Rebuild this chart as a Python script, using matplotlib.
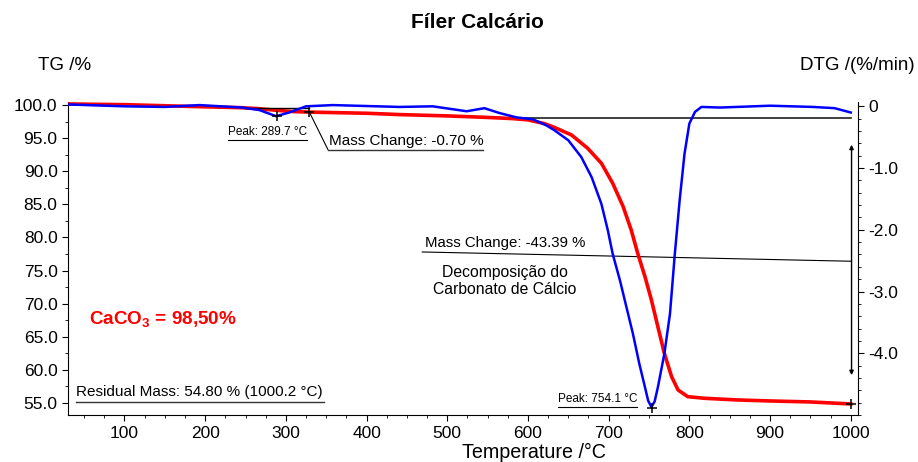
import numpy as np
import matplotlib
matplotlib.use("Agg")
import matplotlib.pyplot as plt
from matplotlib.ticker import MultipleLocator

plt.rcParams['font.family'] = ['Liberation Sans', 'DejaVu Sans']
plt.rcParams['mathtext.fontset'] = 'custom'
plt.rcParams['mathtext.rm'] = 'Liberation Sans'
plt.rcParams['mathtext.bf'] = 'Liberation Sans:bold'

# TG curve (mass %)
tg_temp = [30, 100, 200, 243, 265, 288, 310, 330, 400, 441, 500, 544, 580, 600, 620, 633,
           654, 674, 691, 705, 718, 728, 736, 745, 753, 761, 769, 778, 786, 798, 819,
           860, 900, 950, 1000]
tg_mass = [100.15, 100.05, 99.72, 99.6, 99.45, 99.2, 99.0, 98.92, 98.75, 98.55, 98.35,
           98.15, 97.95, 97.75, 97.2, 96.6, 95.47, 93.46, 91.2, 88.18, 84.64, 81.1, 77.6,
           74.07, 70.55, 66.5, 62.5, 58.97, 56.96, 55.95, 55.7, 55.45, 55.3, 55.15, 54.85]

# DTG curve (%/min)
dtg_temp = [30, 100, 150, 193, 246, 267, 288, 304, 325, 358, 441, 482, 524, 546, 565,
            586, 606, 623, 633, 650, 666, 679, 691, 699, 705, 714, 722, 730, 738, 745,
            749, 753, 757, 761, 769, 776, 782, 788, 794, 800, 807, 815, 838, 900, 953,
            980, 1000]
dtg_rate = [0.03, 0.0, -0.01, 0.02, -0.02, -0.06, -0.16, -0.1, 0.0, 0.02, -0.01, 0.0,
            -0.08, -0.03, -0.11, -0.18, -0.21, -0.31, -0.39, -0.55, -0.82, -1.15, -1.58,
            -2.01, -2.39, -2.82, -3.25, -3.68, -4.17, -4.55, -4.77, -4.87, -4.78, -4.55,
            -4.01, -3.36, -2.39, -1.52, -0.77, -0.28, -0.09, -0.01, -0.02, 0.01, -0.01,
            -0.03, -0.1]

fig = plt.figure(figsize=(9.18, 4.62), dpi=100)
ax = fig.add_axes([68/918, 1-415/462, 790/918, 313/462])
ax2 = ax.twinx()

ax.plot(tg_temp, tg_mass, color='#ff0000', lw=2.6, zorder=3, solid_joinstyle='round')
ax2.plot(dtg_temp, dtg_rate, color='#0000ff', lw=1.8, zorder=3, solid_joinstyle='round')

ax.set_xlim(30, 1009)
ax.set_ylim(53.18, 100.45)
ax2.set_ylim(-5.0, 0.07)

# spines / ticks
for a in (ax, ax2):
    a.spines['top'].set_visible(False)
ax.spines['right'].set_visible(False)
ax2.spines['left'].set_visible(False)
ax2.spines['bottom'].set_visible(False)

ax.set_xticks([100, 200, 300, 400, 500, 600, 700, 800, 900, 1000])
ax.xaxis.set_minor_locator(MultipleLocator(25))
ax.set_yticks([55, 60, 65, 70, 75, 80, 85, 90, 95, 100])
ax.set_yticklabels(['%.1f' % v for v in [55, 60, 65, 70, 75, 80, 85, 90, 95, 100]])
ax.yaxis.set_minor_locator(MultipleLocator(2.5))
ax2.set_yticks([0, -1, -2, -3, -4])
ax2.set_yticklabels(['0', '-1.0', '-2.0', '-3.0', '-4.0'])
ax2.yaxis.set_minor_locator(MultipleLocator(0.2))

for a in (ax, ax2):
    a.tick_params(which='major', length=4, width=0.8, labelsize=12.5, direction='out')
    a.tick_params(which='minor', length=2.5, width=0.6, direction='out')
ax.tick_params(axis='x', pad=4)

# annotations (black lines)
ax.plot([249, 329], [99.55, 99.55], color='black', lw=1.0, zorder=4)
ax.plot([329, 352], [98.95, 93.3], color='black', lw=0.8, zorder=4)
ax.plot([329], [98.95], marker='+', color='black', ms=7, mew=1.1, zorder=5)
ax2.plot([288.4], [-0.16], marker='+', color='black', ms=7, mew=1.1, zorder=5)
ax.plot([550, 1000], [98.04, 98.04], color='#333333', lw=1.3, zorder=2)
ax.plot([469, 1001], [77.8, 76.4], color='black', lw=0.8, zorder=2)
ax.annotate('', xy=(1001, 94.0), xytext=(1001, 59.2),
            arrowprops=dict(arrowstyle='<|-|>', color='black', lw=1.0,
                            mutation_scale=6, shrinkA=0, shrinkB=0))
ax.plot([1000], [54.85], marker='+', color='black', ms=7, mew=1.1, zorder=5)
ax2.plot([753.5], [-4.88], marker='+', color='black', ms=7, mew=1.1, zorder=5)

# texts with underlines
ax.text(228, 95.0, 'Peak: 289.7 °C', fontsize=8.5, ha='left', va='bottom')
ax.plot([227.7, 325.6], [94.71, 94.71], color='black', lw=0.8)
ax.text(353, 93.55, 'Mass Change: -0.70 %', fontsize=11, ha='left', va='bottom')
ax.plot([351.6, 543.8], [93.2, 93.2], color='#333333', lw=1.0)
ax.text(40, 55.55, 'Residual Mass: 54.80 % (1000.2 °C)', fontsize=11, ha='left', va='bottom')
ax.plot([39.3, 346.7], [55.15, 55.15], color='#333333', lw=1.0)
ax.text(637.5, 54.75, 'Peak: 754.1 °C', fontsize=8.5, ha='left', va='bottom')
ax.plot([636.8, 734.7], [54.4, 54.4], color='black', lw=0.8)
ax.text(472, 78.15, 'Mass Change: -43.39 %', fontsize=10.8, ha='left', va='bottom')
ax.text(571, 73.4, 'Decomposição do\nCarbonato de Cálcio', fontsize=11.3,
        ha='center', va='center', linespacing=1.15)
ax.text(56, 67.5, r'CaCO$_\mathbf{3}$ = 98,50%', fontsize=13.6, fontweight='bold',
        color='#ff0000', ha='left', va='center')

fig.text(477/918, 1-23/462, 'Fíler Calcário', fontsize=15, fontweight='bold',
         ha='center', va='center')
fig.text(38/918, 1-66/462, 'TG /%', fontsize=13.5, ha='left', va='center')
fig.text(915/918, 1-66/462, 'DTG /(%/min)', fontsize=13.5, ha='right', va='center')
fig.text(534/918, 1-452/462, 'Temperature /°C', fontsize=14.2, ha='center', va='center')

fig.savefig('out.png', dpi=100)
